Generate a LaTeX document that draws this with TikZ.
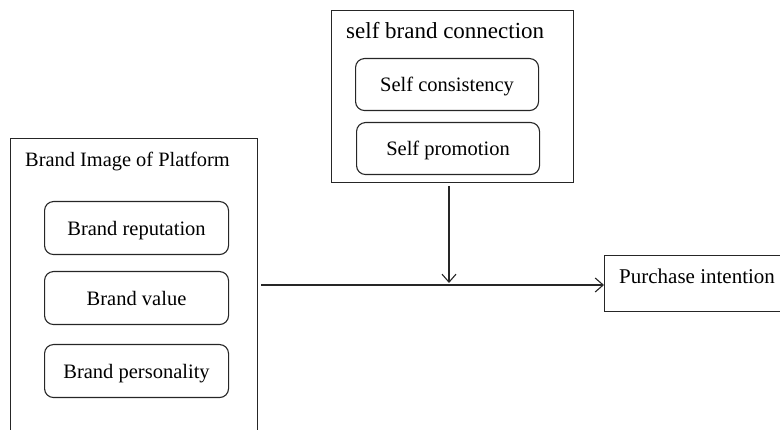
\documentclass[tikz,border=0pt]{standalone}
\usepackage{fontspec}
\setmainfont{Liberation Serif}
\usetikzlibrary{arrows.meta}
\tikzset{
  outer/.style={draw=black!85, line width=1.1pt, anchor=north west, inner sep=0pt},
  inner/.style={draw=black!85, line width=1.1pt, rounded corners=9pt, anchor=north west, inner sep=0pt, text height=14pt, text depth=0pt, font=\fontsize{20.5}{24}\selectfont},
  ttl/.style={anchor=west, inner sep=0pt, text height=14pt, text depth=0pt, font=\fontsize{20.4}{24}\selectfont},
  conn/.style={line width=1.1pt, draw=black!85, -{Straight Barb[length=8pt,width=14pt,line width=1.1pt]}}
}
\begin{document}
\begin{tikzpicture}[x=1pt,y=-1pt]
\useasboundingbox (0,0) rectangle (780,430);
\clip (0,0) rectangle (780,430);
% left group
\node[outer, minimum width=247pt, minimum height=310pt] (L) at (10,138) {};
\node[ttl] (Lt) at (25,160) {Brand Image of Platform};
\node[inner, minimum width=184pt, minimum height=53pt] (b1) at (44,201) {Brand reputation};
\node[inner, minimum width=184pt, minimum height=53pt] (b2) at (44,271) {Brand value};
\node[inner, minimum width=184pt, minimum height=53pt] (b3) at (44,344) {Brand personality};
% top group
\node[outer, minimum width=242pt, minimum height=172pt] (T) at (331,10) {};
\node[ttl, font=\fontsize{23}{26}\selectfont] (Tt) at (346,32) {self brand connection};
\node[inner, minimum width=183pt, minimum height=52pt] (s1) at (355,58) {Self consistency};
\node[inner, minimum width=183pt, minimum height=52pt] (s2) at (356,122) {Self promotion};
% outcome
\node[outer, minimum width=190pt, minimum height=56pt] (P) at (604,255) {};
\node[ttl, font=\fontsize{21}{24}\selectfont] (Pt) at (619,277) {Purchase intention};
% connectors
\coordinate (start) at (261,285);
\coordinate (endP) at (P.west |- start);
\coordinate (top) at (449,186);
\coordinate (mid) at (449,283);
\draw[conn] (start) -- (endP);
\draw[conn] (top) -- (mid);
\end{tikzpicture}
\end{document}
